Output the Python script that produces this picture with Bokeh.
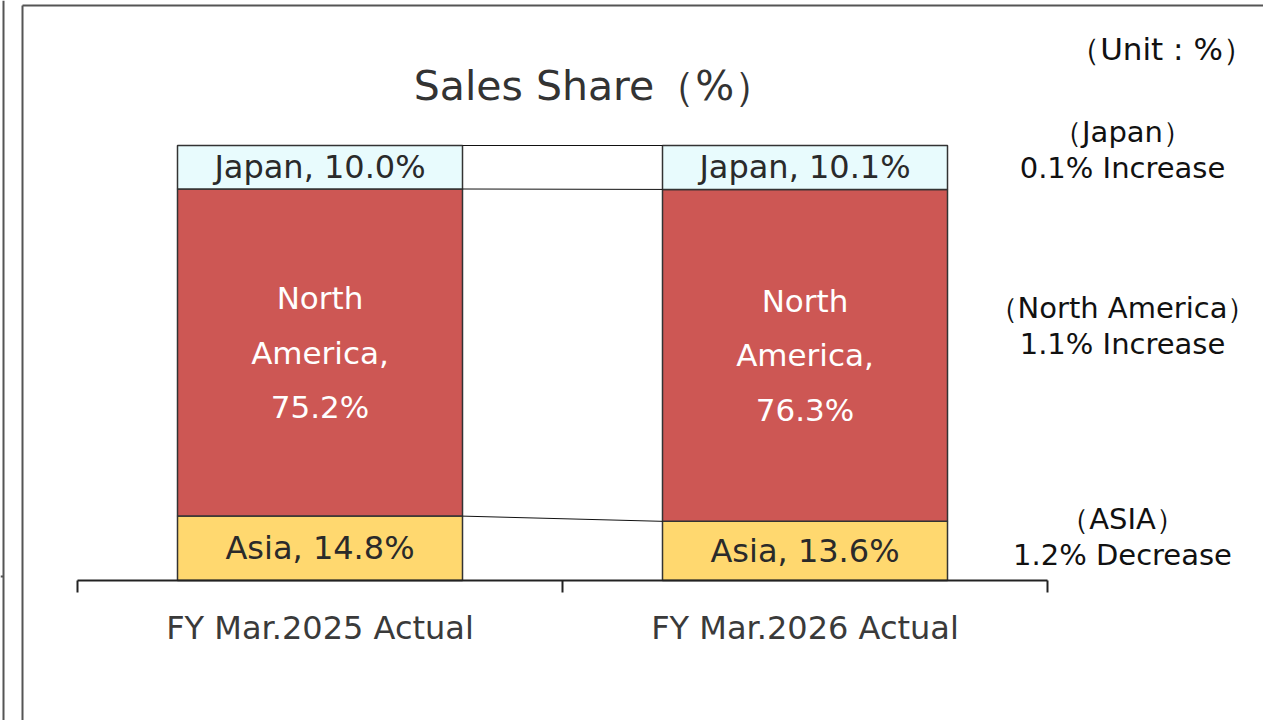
from bokeh.plotting import figure
from bokeh.models import Range1d, ColumnDataSource
from bokeh.core.properties import value
from bokeh.embed import file_html
from bokeh.resources import INLINE

# ---------------- data ----------------
categories = ["FY Mar.2025 Actual", "FY Mar.2026 Actual"]
asia = [14.8, 13.6]
north_america = [75.2, 76.3]
japan = [10.0, 10.1]
change_heads = ["（Japan）", "（North America）", "（ASIA）"]
change_texts = ["0.1% Increase", "1.1% Increase", "1.2% Decrease"]
title_text = "Sales Share（%）"
unit_text = "（Unit : %）"

colors = {"asia": "#FFD86F", "na": "#CD5754", "japan": "#E8FBFD"}

# ---------------- layout helpers (canvas pixels -> data) ----------------
X0, XSTEP = 77, 485      # canvas x of category boundary 0, px per category
Y0, YSCALE = 580, 4.35   # canvas y of 0%, px per percent
def ux(px):
    return (px - X0) / XSTEP
def vy(py):
    return (Y0 - py) / YSCALE

W, H = 1263, 720
FONT = value("DejaVu Sans")

p = figure(width=W, height=H,
           x_range=Range1d(ux(0), ux(W)),
           y_range=Range1d(vy(H), vy(0)),
           output_backend="svg", toolbar_location=None,
           x_axis_location=None, y_axis_location=None,
           min_border=0)
p.grid.visible = False
p.outline_line_color = None
p.background_fill_color = "white"
p.border_fill_color = "white"

xs = [i + 0.5 for i in range(len(categories))]
BW = 285 / XSTEP

src = ColumnDataSource(dict(x=xs, asia=asia, na=north_america, japan=japan))
p.vbar_stack(["asia", "na", "japan"], x="x", width=BW, source=src,
             fill_color=[colors["asia"], colors["na"], colors["japan"]],
             line_color="#333333", line_width=1.5)

# connector lines between bars
lvl1 = [asia[0], asia[0] + north_america[0], asia[0] + north_america[0] + japan[0]]
lvl2 = [asia[1], asia[1] + north_america[1], asia[1] + north_america[1] + japan[1]]
p.segment(x0=[xs[0] + BW / 2] * 3, y0=lvl1, x1=[xs[1] - BW / 2] * 3, y1=lvl2,
          line_color="#111111", line_width=1)

# baseline + boundary ticks
p.segment(x0=[0], y0=[0], x1=[len(categories)], y1=[0], line_color="#222222", line_width=2)
bx = list(range(len(categories) + 1))
p.segment(x0=bx, y0=[0] * len(bx), x1=bx, y1=[vy(592)] * len(bx),
          line_color="#222222", line_width=2)

# in-bar labels
asia_mid = [a / 2 for a in asia]
na_mid = [a + n / 2 for a, n in zip(asia, north_america)]
jp_mid = [a + n + j / 2 for a, n, j in zip(asia, north_america, japan)]
p.text(x=xs, y=asia_mid, text=[f"Asia, {v:.1f}%" for v in asia],
       text_font=FONT, text_font_size="32px", text_color="#2a2a2a",
       text_align="center", text_baseline="middle")
p.text(x=xs, y=jp_mid, text=[f"Japan, {v:.1f}%" for v in japan],
       text_font=FONT, text_font_size="32px", text_color="#2a2a2a",
       text_align="center", text_baseline="middle")
p.text(x=xs, y=na_mid, text=[f"North\nAmerica,\n{v:.1f}%" for v in north_america],
       text_font=FONT, text_font_size="31px", text_color="white",
       text_align="center", text_baseline="middle", text_line_height=1.52)

# category labels
p.text(x=xs, y=[vy(627)] * len(xs), text=categories,
       text_font=FONT, text_font_size="32px", text_color="#3a3a3a",
       text_align="center", text_baseline="middle")

# title and unit
p.text(x=[ux(594)], y=[vy(85)], text=[title_text], text_font=FONT,
       text_font_size="41px", text_color="#333333",
       text_align="center", text_baseline="middle")
p.text(x=[ux(1161)], y=[vy(48)], text=[unit_text], text_font=FONT,
       text_font_size="31px", text_color="#111111",
       text_align="center", text_baseline="middle")

# change annotations on the right
head_y = [131, 307, 518]
text_y = [167, 343, 554]
p.text(x=[ux(1122)] * 3, y=[vy(v) for v in head_y], text=change_heads, text_font=FONT,
       text_font_size="29px", text_color="#111111",
       text_align="center", text_baseline="middle")
p.text(x=[ux(1122)] * 3, y=[vy(v) for v in text_y], text=change_texts, text_font=FONT,
       text_font_size="29px", text_color="#111111",
       text_align="center", text_baseline="middle")

# panel borders (left edge of previous panel, and this panel's left/top)
p.segment(x0=[ux(3), ux(0), ux(22), ux(22)],
          y0=[vy(0), vy(576), vy(5), vy(5)],
          x1=[ux(3), ux(3), ux(22), ux(1271)],
          y1=[vy(728), vy(576), vy(728), vy(5)],
          line_color="#555555", line_width=2)

open("out.html", "w").write(file_html(p, INLINE))
